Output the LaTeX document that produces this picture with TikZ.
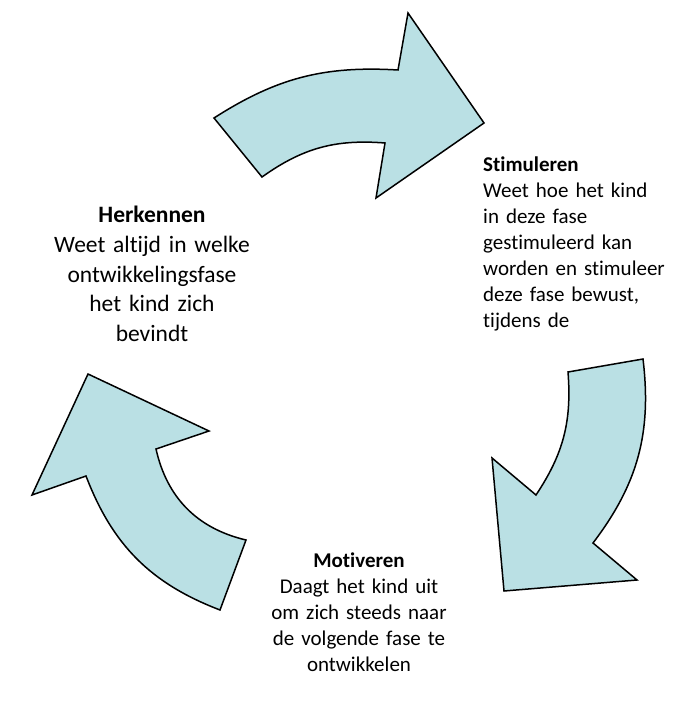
\documentclass[tikz,border=0pt]{standalone}
\usepackage{fontspec}
\setmainfont[Ligatures=NoCommon]{Carlito}

\begin{document}
\begin{tikzpicture}[x=1pt, y=-1pt]

\definecolor{arrowfill}{RGB}{186,224,228}

\def\PhaseFont{\fontsize{21}{26}\selectfont}
\def\MainFont{\fontsize{23.5}{29.5}\selectfont}
\def\TextWidth{200pt}

% Styles
\tikzstyle{cycle arrow} =
	[draw=black, line width=1.5pt, fill=arrowfill, line join=miter]

\tikzstyle{phase text} =
	[inner sep=0pt, text width=\TextWidth, font=\PhaseFont]

\useasboundingbox (0,0) rectangle (696,708);

% Arrows

\draw[cycle arrow] (214,118) to[bend left=18] (398,70) -- (408,13) -- (484,123)
	-- (376,198) -- (385,143) to[bend right=20] (262,177) -- cycle;

\draw[cycle arrow] (643,359) to[bend left=22] (593,543) -- (637,580) -- (504,591)
	-- (492,458) -- (536,495) to[bend right=19] (568,372) -- cycle;

\draw[cycle arrow] (220,610) -- (246,540) to[bend left=32] (156,449) -- (209,431)
	-- (88,374) -- (32,495) -- (86,476) to[bend right=24] (220,610) -- cycle;

% Phases

\node (Herkennen) at (152,223)
	[phase text, font=\MainFont, anchor=base, align=center]
	{\textbf{Herkennen}\\ Weet altijd in welke\\ ontwikkelingsfase\\ het kind zich\\ bevindt};

\node (Stimuleren) at (483,172)
	[phase text, anchor=base west, align=left]
	{\textbf{Stimuleren}\\ Weet hoe het kind\\ in deze fase\\ gestimuleerd kan\\ worden en stimuleer\\ deze fase bewust,\\ tijdens de};

\node (Motiveren) at (359,567)
	[phase text, anchor=base, align=center]
	{\textbf{Motiveren}\\ Daagt het kind uit\\ om zich steeds naar\\ de volgende fase te\\ ontwikkelen};

\end{tikzpicture}
\end{document}
